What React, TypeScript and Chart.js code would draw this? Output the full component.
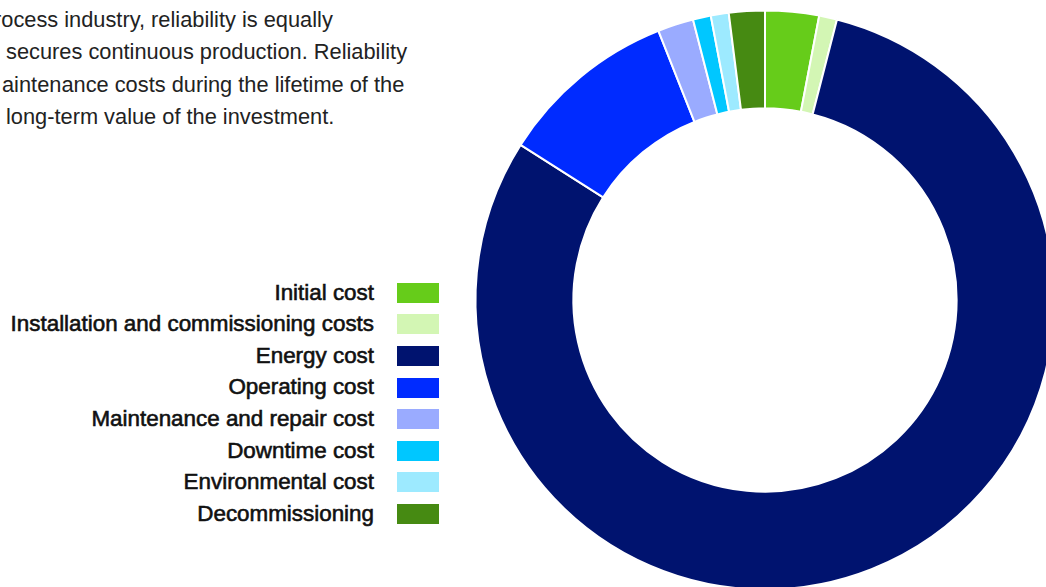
import React, { useEffect, useRef } from "react";
import { Chart, registerables } from "chart.js";

Chart.register(...registerables);

const categories = [
  "Initial cost",
  "Installation and commissioning costs",
  "Energy cost",
  "Operating cost",
  "Maintenance and repair cost",
  "Downtime cost",
  "Environmental cost",
  "Decommissioning",
];
const shares = [3, 1, 80, 10, 2, 1, 1, 2];
const sliceColors = [
  "#66cc1a",
  "#d3f6b4",
  "#00136f",
  "#002bff",
  "#9aabff",
  "#00c7ff",
  "#9deaff",
  "#468a12",
];
const introLines = [
  "rocess industry, reliability is equally",
  "secures continuous production. Reliability",
  "aintenance costs during the lifetime of the",
  "long-term value of the investment.",
];
const introOffsets = [-6, 6, 2, 6];

const FONT = '"Liberation Sans", Arial, Helvetica, sans-serif';

export default function App() {
  const canvasRef = useRef<HTMLCanvasElement | null>(null);

  useEffect(() => {
    if (!canvasRef.current) return;
    const chart = new Chart(canvasRef.current, {
      type: "doughnut",
      data: {
        labels: categories,
        datasets: [
          {
            data: shares,
            backgroundColor: sliceColors,
            borderColor: "#ffffff",
            borderWidth: 2,
            hoverOffset: 0,
          },
        ],
      },
      options: {
        responsive: false,
        animation: false,
        radius: 289.5,
        cutout: "66.2%",
        plugins: {
          legend: { display: false },
          tooltip: { enabled: false },
        },
      },
    });
    return () => chart.destroy();
  }, []);

  return (
    <div
      style={{
        position: "fixed",
        left: 0,
        top: 0,
        width: 1046,
        height: 587,
        overflow: "hidden",
        background: "#ffffff",
        fontFamily: FONT,
      }}
    >
      {introLines.map((line, i) => (
        <div
          key={i}
          style={{
            position: "absolute",
            left: introOffsets[i],
            top: 4 + i * 32.3,
            fontSize: 21.8,
            lineHeight: "32px",
            color: "#222222",
            whiteSpace: "nowrap",
          }}
        >
          {line}
        </div>
      ))}
      <div style={{ position: "absolute", left: 0, top: 277, width: 439 }}>
        {categories.map((c, i) => (
          <div
            key={c}
            style={{
              height: 31.6,
              display: "flex",
              justifyContent: "flex-end",
              alignItems: "center",
            }}
          >
            <span
              style={{
                fontSize: 22.4,
                lineHeight: 1,
                color: "#111111",
                whiteSpace: "nowrap",
                WebkitTextStroke: "0.6px #111111",
                marginRight: 23,
              }}
            >
              {c}
            </span>
            <span
              style={{
                display: "inline-block",
                width: 42,
                height: 20,
                background: sliceColors[i],
              }}
            />
          </div>
        ))}
      </div>
      <canvas
        ref={canvasRef}
        width={600}
        height={600}
        style={{ position: "absolute", left: 465, top: 0, width: 600, height: 600 }}
      />
    </div>
  );
}
